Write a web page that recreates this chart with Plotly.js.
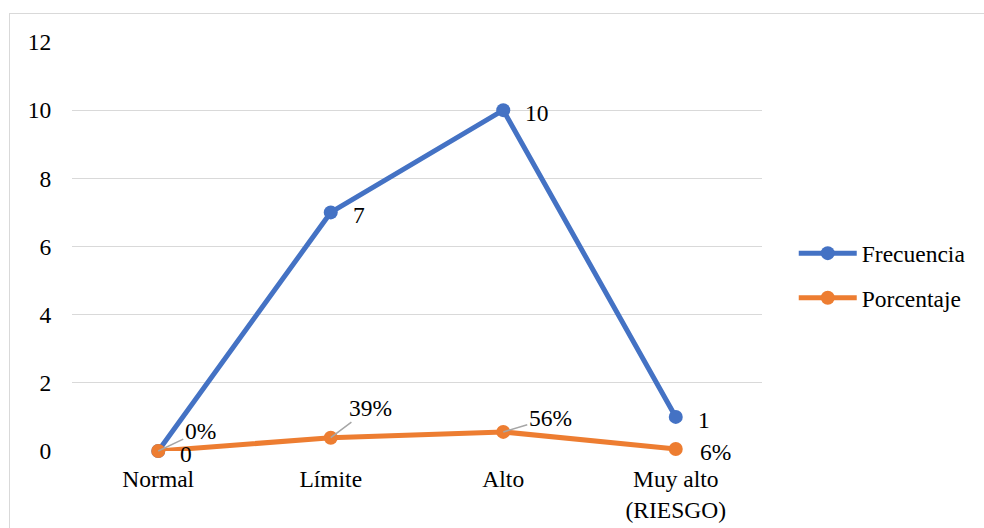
<!DOCTYPE html>
<html>
<head>
<meta charset="utf-8">
<script src="https://cdn.plot.ly/plotly-3.0.1.min.js"></script>
<style>
  html, body { margin: 0; padding: 0; background: #fff; overflow: hidden; }
  #wrap { position: relative; width: 984px; height: 528px; }
  #chart { position: absolute; left: 0; top: 0; width: 984px; height: 528px; }
  #frame { position: absolute; left: 9px; top: 13px; width: 1000px; height: 600px;
           border: 1.5px solid #d9d9d9; pointer-events: none; box-sizing: border-box; }
</style>
</head>
<body>
<div id="wrap">
  <div id="chart"></div>
  <div id="frame"></div>
</div>
<script>
const categories = ["Normal", "Límite", "Alto", "Muy alto<br>(RIESGO)"];
const frecuencia = [0, 7, 10, 1];
const porcentaje = [0, 0.39, 0.56, 0.06];
const yTicks = [0, 2, 4, 6, 8, 10, 12];

const FONT = "Times New Roman, Liberation Serif, DejaVu Serif, serif";
const FS = 23.5;
const BLUE = "#4472C4";
const ORANGE = "#ED7D31";
const LEADER = "#a6a6a6";

const traces = [
  {
    x: categories, y: frecuencia, name: "Frecuencia", type: "scatter", mode: "lines+markers",
    line: { color: BLUE, width: 5 }, marker: { color: BLUE, size: 14 },
    legendgroup: "a", cliponaxis: false
  },
  {
    x: categories, y: porcentaje, name: "Porcentaje", type: "scatter", mode: "lines+markers",
    line: { color: ORANGE, width: 5 }, marker: { color: ORANGE, size: 14 },
    legendgroup: "b", cliponaxis: false
  }
];

const annotations = [];
frecuencia.forEach((v, i) => {
  annotations.push({
    x: categories[i], y: v, text: String(v), showarrow: false,
    xanchor: "left", yanchor: "middle", xshift: 20, yshift: -3,
    font: { family: FONT, size: FS, color: "#000" }
  });
});

const pctOffsets = [
  { ax: 42, ay: -20, arrow: true },
  { ax: 40, ay: -30, arrow: true },
  { ax: 47, ay: -14, arrow: true },
  { ax: 48, ay: 3, arrow: false }
];
porcentaje.forEach((v, i) => {
  const o = pctOffsets[i];
  if (o.arrow) {
    annotations.push({
      x: categories[i], y: v, text: Math.round(v * 100) + "%",
      showarrow: true, arrowhead: 0, arrowwidth: 1.5, arrowcolor: LEADER,
      ax: o.ax, ay: o.ay, standoff: 0,
      font: { family: FONT, size: FS, color: "#000" }
    });
  } else {
    annotations.push({
      x: categories[i], y: v, text: Math.round(v * 100) + "%", showarrow: false,
      xanchor: "left", yanchor: "middle", xshift: 22, yshift: -3,
      font: { family: FONT, size: FS, color: "#000" }
    });
  }
});

const layout = {
  width: 984, height: 528,
  margin: { l: 72, r: 222, t: 42, b: 77 },
  paper_bgcolor: "#fff", plot_bgcolor: "#fff",
  font: { family: FONT, size: FS, color: "#000" },
  showlegend: true,
  legend: {
    x: 1.046, xanchor: "left", y: 0.537, yanchor: "top",
    font: { family: FONT, size: FS, color: "#000" },
    itemwidth: 58, tracegroupgap: 11, bgcolor: "rgba(0,0,0,0)"
  },
  xaxis: {
    type: "category", range: [-0.5, 3.5], showgrid: false, zeroline: false,
    showline: false, ticks: "outside", ticklen: 7, tickcolor: "rgba(0,0,0,0)",
    tickfont: { family: FONT, size: FS, color: "#000" }, fixedrange: true
  },
  yaxis: {
    range: [0, 12], tickvals: yTicks, showgrid: true, gridcolor: "#d9d9d9", gridwidth: 1.3,
    zeroline: false, showline: false, ticks: "outside", ticklen: 15,
    tickcolor: "rgba(0,0,0,0)",
    tickfont: { family: FONT, size: FS, color: "#000" }, fixedrange: true
  },
  annotations: annotations
};

Plotly.newPlot("chart", traces, layout, { displayModeBar: false, staticPlot: true });
</script>
</body>
</html>
